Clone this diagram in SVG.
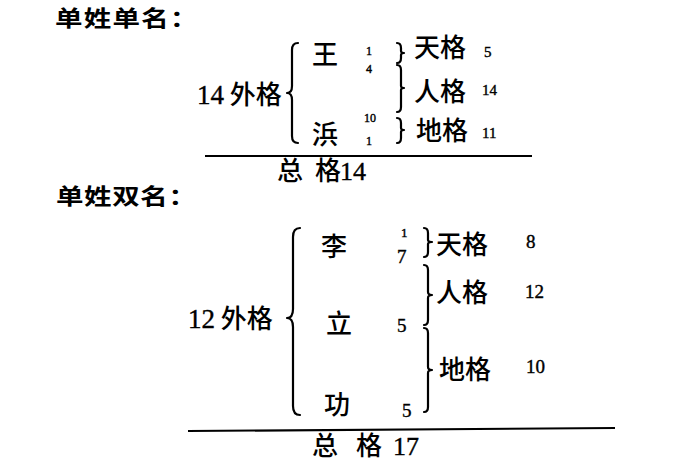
<svg xmlns="http://www.w3.org/2000/svg" width="698" height="465" viewBox="0 0 698 465">
<style>
.h{font-family:"Noto Sans CJK SC","Noto Sans",sans-serif;font-weight:bold;font-size:22px;fill:#000}
.c{font-family:"Noto Sans CJK SC","Noto Sans",sans-serif;font-weight:500;font-size:26px;fill:#000}
.n{font-family:"Liberation Serif","Noto Sans CJK SC",serif;font-weight:normal;fill:#000;stroke:#000;stroke-width:0.4}
.b{fill:none;stroke:#000;stroke-width:2.2;stroke-linecap:round;stroke-linejoin:round}
.r{stroke:#000;stroke-width:2.2}
</style>
<rect width="698" height="465" fill="#fff"/>
<g id="header1"><text class="h" transform="translate(55,26) scale(1.25,1)" x="0" y="0" letter-spacing="1">单姓单名：</text></g>
<g id="section1">
  <text class="c" x="197" y="104"><tspan class="n" font-size="27">14</tspan> 外格</text>
  <path class="b" d="M298,43 Q292,43 292,50 L292,86 Q292,93 287,93 Q292,93 292,100 L292,136 Q292,143 298,143"/>
  <text class="c" x="312" y="64">王</text>
  <text class="c" x="312" y="144">浜</text>
  <text class="n" font-size="12" x="366" y="55">1</text>
  <text class="n" font-size="12" x="366" y="73">4</text>
  <text class="n" font-size="12" x="364" y="122">10</text>
  <text class="n" font-size="12" x="366" y="145">1</text>
  <path class="b" d="M397,43 Q401,43 401,48 L401,51 Q401,53 404,53 Q401,53 401,55 L401,58 Q401,63 397,63"/>
  <path class="b" d="M397,65 Q401,65 401,70 L401,86 Q401,88 404,88 Q401,88 401,90 L401,107 Q401,112 397,112"/>
  <path class="b" d="M397,118 Q401,118 401,123 L401,128 Q401,130 404,130 Q401,130 401,132 L401,138 Q401,143 397,143"/>
  <text class="c" x="414" y="57" font-size="27">天格</text>
  <text class="c" x="414" y="101" font-size="27">人格</text>
  <text class="c" x="416" y="140" font-size="27">地格</text>
  <text class="n" font-size="15" x="484" y="57">5</text>
  <text class="n" font-size="15" x="482" y="95">14</text>
  <text class="n" font-size="15" x="482" y="138">11</text>
  <line class="r" x1="205" y1="156" x2="532" y2="156"/>
  <text class="c" font-size="22" x="277" y="180">总</text>
  <text class="c" font-size="22" x="315" y="180">格</text>
  <text class="n" font-size="26" x="340" y="180">14</text>
</g>
<g id="header2"><text class="h" transform="translate(56,204) scale(1.25,1)" x="0" y="0" font-size="23" letter-spacing="0.5">单姓双名：</text></g>
<g id="section2">
  <text class="c" x="188" y="328"><tspan class="n" font-size="27">12</tspan> 外格</text>
  <path class="b" d="M300,228 Q293,228 293,237 L293,309 Q293,318 287,318 Q293,318 293,327 L293,406 Q293,415 300,415"/>
  <text class="c" font-size="28" x="321" y="256">李</text>
  <text class="c" font-size="28" x="326" y="333">立</text>
  <text class="c" font-size="28" x="324" y="414">功</text>
  <text class="n" font-size="13" x="401" y="237">1</text>
  <text class="n" font-size="19" x="397" y="263">7</text>
  <text class="n" font-size="19" x="397" y="332">5</text>
  <text class="n" font-size="19" x="402" y="417">5</text>
  <path class="b" d="M424,228 Q428,228 428,233 L428,240 Q428,242 432,242 Q428,242 428,244 L428,252 Q428,257 424,257"/>
  <path class="b" d="M424,265 Q428,265 428,270 L428,292 Q428,295 432,295 Q428,295 428,298 L428,320 Q428,325 424,325"/>
  <path class="b" d="M424,328 Q428,328 428,333 L428,367 Q428,370 432,370 Q428,370 428,373 L428,407 Q428,412 424,412"/>
  <text class="c" x="436" y="254" font-size="27">天格</text>
  <text class="c" x="436" y="302" font-size="27">人格</text>
  <text class="c" x="439" y="379" font-size="27">地格</text>
  <text class="n" font-size="19" x="526" y="248">8</text>
  <text class="n" font-size="19" x="525" y="298">12</text>
  <text class="n" font-size="19" x="526" y="373">10</text>
  <line class="r" x1="188" y1="431" x2="615" y2="428"/>
  <text class="c" font-size="24" x="312" y="455">总</text>
  <text class="c" font-size="24" x="356" y="455">格</text>
  <text class="n" font-size="26" x="393" y="455">17</text>
</g>
</svg>
